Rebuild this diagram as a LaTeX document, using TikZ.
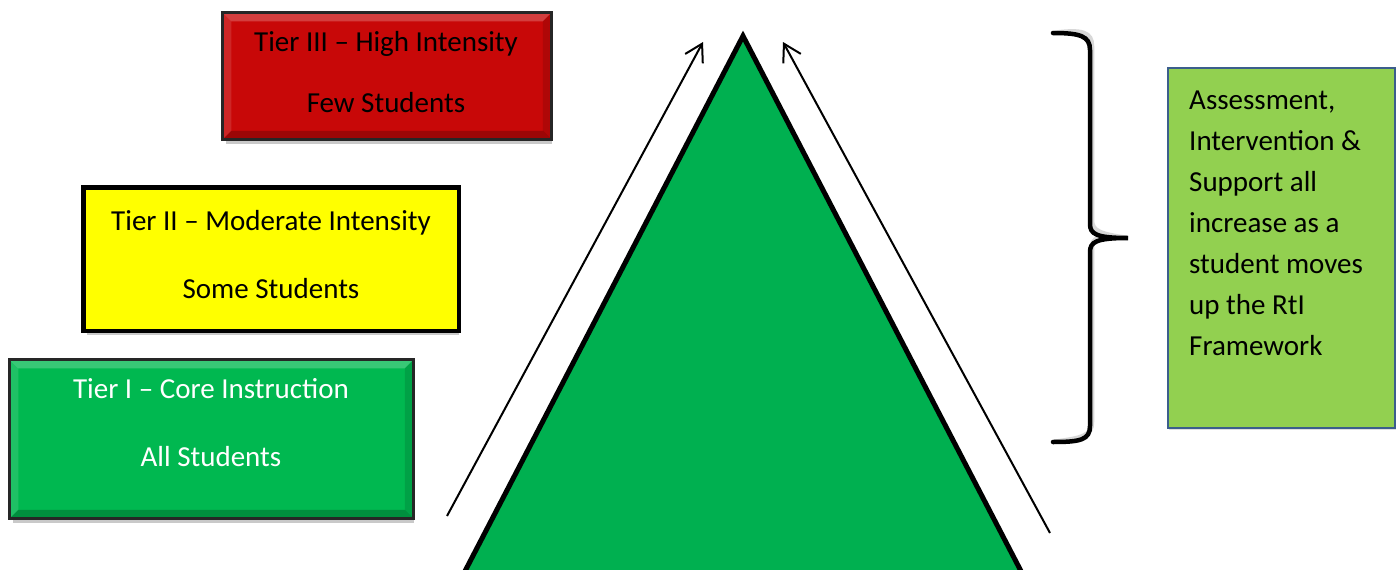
\documentclass[tikz,border=0pt]{standalone}
\usepackage{fontspec}
\setmainfont{Carlito}
\usetikzlibrary{arrows.meta,shadows,calc}
\definecolor{tierred}{HTML}{C80808}
\definecolor{tieryellow}{HTML}{FFFF00}
\definecolor{tiergreen}{HTML}{00B850}
\definecolor{trigreen}{HTML}{00B050}
\definecolor{sidegreen}{HTML}{92D050}
\definecolor{sideblue}{HTML}{3B5E8C}
\newcommand{\bevelbox}[2]{%
  \fill[white,opacity=0.22] (#1.north west) -- (#1.north east) -- ($(#1.north east)+(-#2,#2)$) -- ($(#1.north west)+(#2,#2)$) -- cycle;
  \fill[white,opacity=0.12] (#1.north west) -- ($(#1.north west)+(#2,#2)$) -- ($(#1.south west)+(#2,-#2)$) -- (#1.south west) -- cycle;
  \fill[black,opacity=0.22] (#1.south west) -- (#1.south east) -- ($(#1.south east)+(-#2,-#2)$) -- ($(#1.south west)+(#2,-#2)$) -- cycle;
  \fill[black,opacity=0.12] (#1.north east) -- ($(#1.north east)+(-#2,#2)$) -- ($(#1.south east)+(-#2,-#2)$) -- (#1.south east) -- cycle;
}
\begin{document}
\begin{tikzpicture}[x=1pt,y=-1pt,
  tierbox/.style={rectangle, inner sep=0pt, line width=3.5pt,
    drop shadow={shadow xshift=2pt, shadow yshift=-6pt, opacity=0.35, fill=black!60}},
  tiertext/.style={anchor=base, inner sep=0pt, font=\fontsize{29}{35}\selectfont},
  sidetext/.style={anchor=base west, inner sep=0pt, font=\fontsize{29}{35}\selectfont},
  thinarrow/.style={line width=2pt, -{Straight Barb[length=17pt,width=20pt,line width=2pt]}},
  bracestyle/.style={line width=4.5pt, line cap=round}
]
\useasboundingbox (0,0) rectangle (1398,570);
\clip (0,0) rectangle (1398,570);
\fill[white] (0,0) rectangle (1398,570);

% Tier III
\node[tierbox, fill=tierred, minimum width=326pt, minimum height=124pt] (t3) at (387,76) {};
\bevelbox{t3}{9}
\draw[line width=3pt, draw=black!85] (t3.north west) rectangle (t3.south east);
\node[tiertext] (t3a) at (386,51) {Tier III – High Intensity};
\node[tiertext] (t3b) at (386,112) {Few Students};

% Tier II
\node[tierbox, fill=tieryellow, minimum width=372pt, minimum height=140pt] (t2) at (271,259) {};
\draw[line width=4.5pt, draw=black] (t2.north west) rectangle (t2.south east);
\node[tiertext] (t2a) at (271,230) {Tier II – Moderate Intensity};
\node[tiertext] (t2b) at (271,298) {Some Students};

% Tier I
\node[tierbox, fill=tiergreen, minimum width=401pt, minimum height=156pt] (t1) at (211.5,439) {};
\bevelbox{t1}{9}
\draw[line width=3pt, draw=black!85] (t1.north west) rectangle (t1.south east);
\node[tiertext, text=white] (t1a) at (211,398) {Tier I – Core Instruction};
\node[tiertext, text=white] (t1b) at (211,466) {All Students};

% Triangle
\coordinate (apex) at (743,36);
\coordinate (bl) at (450,600);
\coordinate (br) at (1036,600);
\filldraw[fill=trigreen, draw=black, line width=5pt, line join=miter] (apex) -- (br) -- (bl) -- cycle;

% Arrows
\coordinate (la1) at (447,516);
\coordinate (la2) at (703,42);
\coordinate (ra1) at (1050,533);
\coordinate (ra2) at (783,42);
\draw[thinarrow] (la1) -- (la2);
\draw[thinarrow] (ra1) -- (ra2);

% Brace
\coordinate (btop) at (1053,33);
\coordinate (btip) at (1128,238);
\coordinate (bbot) at (1053,442);
\draw[bracestyle, draw=black!25, opacity=0.6, xshift=2pt, yshift=4pt]
  (btop) .. controls (1080,33) and (1090,36) .. (1090,50) -- (1090,224)
  .. controls (1090,234) and (1096,238) .. (btip)
  .. controls (1096,238) and (1090,242) .. (1090,252) -- (1090,426)
  .. controls (1090,440) and (1080,442) .. (bbot);
\draw[bracestyle]
  (btop) .. controls (1080,33) and (1090,36) .. (1090,50) -- (1090,224)
  .. controls (1090,234) and (1096,238) .. (btip)
  .. controls (1096,238) and (1090,242) .. (1090,252) -- (1090,426)
  .. controls (1090,440) and (1080,442) .. (bbot);

% Side box
\node[rectangle, inner sep=0pt, fill=sidegreen, draw=sideblue, line width=2.5pt,
  minimum width=227pt, minimum height=360pt,
  drop shadow={shadow xshift=1pt, shadow yshift=-2pt, opacity=0.25, fill=black!50}] (side) at (1281.5,248) {};
\node[sidetext] (s1) at (1189,109) {Assessment,};
\node[sidetext] (s2) at (1189,150) {Intervention \&};
\node[sidetext] (s3) at (1189,191) {Support all};
\node[sidetext] (s4) at (1189,232) {increase as a};
\node[sidetext] (s5) at (1189,273) {student moves};
\node[sidetext] (s6) at (1189,314) {up the RtI};
\node[sidetext] (s7) at (1189,355) {Framework};
\end{tikzpicture}
\end{document}
